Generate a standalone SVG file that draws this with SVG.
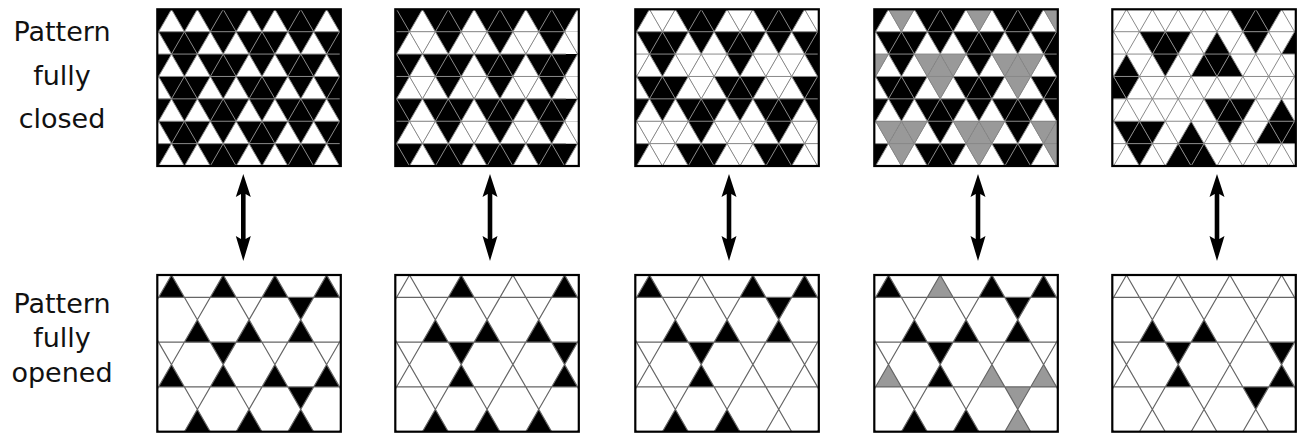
<svg xmlns="http://www.w3.org/2000/svg" xmlns:xlink="http://www.w3.org/1999/xlink" width="1303" height="444" viewBox="0 0 1303 444">
<style>
.w{fill:#fff}.k{fill:#000}.g{fill:#999}
.tl{fill:none;stroke:#8a8a8a;stroke-width:1}
.kl{fill:none;stroke:#666;stroke-width:1.2}
.fr{fill:none;stroke:#000;stroke-width:2.2}
.lab{font-family:"DejaVu Sans",sans-serif;font-size:27px;fill:#111;text-anchor:middle}
.arr{fill:#000}
</style>
<defs>
<polygon id="u" points="0,0 12.93,22.39 -12.93,22.39"/>
<polygon id="d" points="-12.93,0 12.93,0 0,22.39"/>
<clipPath id="cp"><rect x="0" y="0" width="183.5" height="156.7"/></clipPath>
<path id="tl" class="tl" d="M0 22.39H183.5M0 44.77H183.5M0 67.16H183.5M0 89.55H183.5M0 111.94H183.5M0 134.32H183.5
M-115.05 0l90.47 156.7M-89.2 0l90.47 156.7M-63.35 0l90.47 156.7M-37.5 0l90.47 156.7M-11.65 0l90.47 156.7M14.2 0l90.47 156.7M40.05 0l90.47 156.7M65.9 0l90.47 156.7M91.75 0l90.47 156.7M117.6 0l90.47 156.7M143.45 0l90.47 156.7M169.3 0l90.47 156.7M195.15 0l90.47 156.7
M-11.65 0l-90.47 156.7M14.2 0l-90.47 156.7M40.05 0l-90.47 156.7M65.9 0l-90.47 156.7M91.75 0l-90.47 156.7M117.6 0l-90.47 156.7M143.45 0l-90.47 156.7M169.3 0l-90.47 156.7M195.15 0l-90.47 156.7M221 0l-90.47 156.7M246.85 0l-90.47 156.7M272.7 0l-90.47 156.7M298.55 0l-90.47 156.7"/>
<path id="kl" class="kl" d="M0 22.39H183.5M0 67.16H183.5M0 111.94H183.5
M-89.2 0l90.47 156.7M-37.5 0l90.47 156.7M14.2 0l90.47 156.7M65.9 0l90.47 156.7M117.6 0l90.47 156.7M169.3 0l90.47 156.7
M14.2 0l-90.47 156.7M65.9 0l-90.47 156.7M117.6 0l-90.47 156.7M169.3 0l-90.47 156.7M221 0l-90.47 156.7M272.7 0l-90.47 156.7"/>
<path id="arrow" d="M0 174L7.5 197L2.3 194V239L7.5 236L0 261L-7.5 236L-2.3 239V194L-7.5 197Z"/>
<g id="t1w">
<use href="#u" x="14.2" y="0"/><use href="#u" x="40.05" y="0"/><use href="#u" x="91.75" y="0"/><use href="#u" x="117.6" y="0"/><use href="#u" x="169.3" y="0"/>
<use href="#u" x="1.275" y="22.39"/><use href="#u" x="52.975" y="22.39"/><use href="#u" x="78.825" y="22.39"/><use href="#u" x="130.525" y="22.39"/><use href="#u" x="156.375" y="22.39"/>
<use href="#u" x="14.2" y="44.77"/><use href="#u" x="40.05" y="44.77"/><use href="#u" x="91.75" y="44.77"/><use href="#u" x="117.6" y="44.77"/><use href="#u" x="169.3" y="44.77"/>
<use href="#u" x="1.275" y="67.16"/><use href="#u" x="52.975" y="67.16"/><use href="#u" x="78.825" y="67.16"/><use href="#u" x="130.525" y="67.16"/><use href="#u" x="156.375" y="67.16"/>
<use href="#u" x="14.2" y="89.55"/><use href="#u" x="40.05" y="89.55"/><use href="#u" x="91.75" y="89.55"/><use href="#u" x="117.6" y="89.55"/><use href="#u" x="169.3" y="89.55"/>
<use href="#u" x="1.275" y="111.94"/><use href="#u" x="52.975" y="111.94"/><use href="#u" x="78.825" y="111.94"/><use href="#u" x="130.525" y="111.94"/><use href="#u" x="156.375" y="111.94"/>
<use href="#u" x="14.2" y="134.32"/><use href="#u" x="40.05" y="134.32"/><use href="#u" x="91.75" y="134.32"/><use href="#u" x="117.6" y="134.32"/><use href="#u" x="169.3" y="134.32"/>
</g>
<g id="xset">
<use href="#d" x="27.125" y="0"/><use href="#d" x="104.675" y="0"/><use href="#d" x="182.225" y="0"/>
<use href="#d" x="1.275" y="44.77"/><use href="#d" x="52.975" y="44.77"/><use href="#u" x="65.9" y="44.77"/><use href="#d" x="78.825" y="44.77"/><use href="#d" x="130.525" y="44.77"/><use href="#u" x="143.45" y="44.77"/><use href="#d" x="156.375" y="44.77"/>
<use href="#d" x="65.9" y="67.16"/><use href="#d" x="143.45" y="67.16"/>
<use href="#d" x="14.2" y="111.94"/><use href="#u" x="27.125" y="111.94"/><use href="#d" x="40.05" y="111.94"/><use href="#d" x="91.75" y="111.94"/><use href="#u" x="104.675" y="111.94"/><use href="#d" x="117.6" y="111.94"/><use href="#d" x="169.3" y="111.94"/><use href="#u" x="182.225" y="111.94"/>
<use href="#d" x="27.125" y="134.32"/><use href="#d" x="104.675" y="134.32"/><use href="#d" x="182.225" y="134.32"/>
</g>
</defs>
<rect width="1303" height="444" fill="#fff"/>

<g id="labels">
<text class="lab" x="62" y="41">Pattern</text>
<text class="lab" x="62" y="85">fully</text>
<text class="lab" x="62" y="128">closed</text>
<text class="lab" x="62" y="313">Pattern</text>
<text class="lab" x="62" y="347">fully</text>
<text class="lab" x="62" y="382">opened</text>
</g>

<g id="closed-1" transform="translate(157.3,9.3)">
<g clip-path="url(#cp)">
<rect class="k" width="183.5" height="156.7"/>
<use href="#t1w" class="w"/>
<use href="#tl"/>
</g>
<rect class="fr" width="183.5" height="156.7"/>
</g>

<g id="closed-2" transform="translate(395.3,9.3)">
<g clip-path="url(#cp)">
<rect class="k" width="183.5" height="156.7"/>
<g class="w">
<use href="#u" x="27.125" y="0"/><use href="#u" x="78.825" y="0"/><use href="#u" x="130.525" y="0"/><use href="#u" x="182.225" y="0"/>
<use href="#u" x="14.2" y="22.39"/><use href="#u" x="40.05" y="22.39"/><use href="#u" x="65.9" y="22.39"/><use href="#u" x="91.75" y="22.39"/><use href="#u" x="117.6" y="22.39"/><use href="#u" x="143.45" y="22.39"/><use href="#u" x="169.3" y="22.39"/>
<use href="#d" x="27.125" y="22.39"/><use href="#d" x="78.825" y="22.39"/><use href="#d" x="130.525" y="22.39"/><use href="#d" x="182.225" y="22.39"/>
<use href="#u" x="27.125" y="44.77"/><use href="#u" x="78.825" y="44.77"/><use href="#u" x="130.525" y="44.77"/><use href="#u" x="182.225" y="44.77"/>
<use href="#u" x="14.2" y="67.16"/><use href="#u" x="40.05" y="67.16"/><use href="#u" x="65.9" y="67.16"/><use href="#u" x="91.75" y="67.16"/><use href="#u" x="117.6" y="67.16"/><use href="#u" x="143.45" y="67.16"/><use href="#u" x="169.3" y="67.16"/>
<use href="#d" x="27.125" y="67.16"/><use href="#d" x="78.825" y="67.16"/><use href="#d" x="130.525" y="67.16"/><use href="#d" x="182.225" y="67.16"/>
<use href="#u" x="27.125" y="89.55"/><use href="#u" x="78.825" y="89.55"/><use href="#u" x="130.525" y="89.55"/><use href="#u" x="182.225" y="89.55"/>
<use href="#u" x="14.2" y="111.94"/><use href="#u" x="40.05" y="111.94"/><use href="#u" x="65.9" y="111.94"/><use href="#u" x="91.75" y="111.94"/><use href="#u" x="117.6" y="111.94"/><use href="#u" x="143.45" y="111.94"/><use href="#u" x="169.3" y="111.94"/>
<use href="#d" x="27.125" y="111.94"/><use href="#d" x="78.825" y="111.94"/><use href="#d" x="130.525" y="111.94"/><use href="#d" x="182.225" y="111.94"/>
<use href="#u" x="27.125" y="134.32"/><use href="#u" x="78.825" y="134.32"/><use href="#u" x="130.525" y="134.32"/><use href="#u" x="182.225" y="134.32"/>
</g>
<use href="#tl" x="-12.925"/>
</g>
<rect class="fr" width="183.5" height="156.7"/>
</g>

<g id="closed-3" transform="translate(635.3,9.3)">
<g clip-path="url(#cp)">
<rect class="k" width="183.5" height="156.7"/>
<use href="#t1w" class="w"/>
<use href="#xset" class="w"/>
<use href="#tl"/>
</g>
<rect class="fr" width="183.5" height="156.7"/>
</g>

<g id="closed-4" transform="translate(874.3,9.3)">
<g clip-path="url(#cp)">
<rect class="k" width="183.5" height="156.7"/>
<use href="#t1w" class="w"/>
<use href="#xset" class="g"/>
<use href="#tl"/>
</g>
<rect class="fr" width="183.5" height="156.7"/>
</g>

<g id="closed-5" transform="translate(1112.3,9.3)">
<g clip-path="url(#cp)">
<g class="k">
<use href="#d" x="130.525" y="0"/><use href="#u" x="143.45" y="0"/><use href="#d" x="156.375" y="0"/>
<use href="#d" x="40.05" y="22.39"/><use href="#u" x="52.975" y="22.39"/><use href="#d" x="65.9" y="22.39"/><use href="#u" x="104.675" y="22.39"/><use href="#d" x="143.45" y="22.39"/><use href="#u" x="182.225" y="22.39"/>
<use href="#u" x="14.2" y="44.77"/><use href="#d" x="52.975" y="44.77"/><use href="#u" x="91.75" y="44.77"/><use href="#d" x="104.675" y="44.77"/><use href="#u" x="117.6" y="44.77"/>
<use href="#u" x="1.275" y="67.16"/><use href="#d" x="14.2" y="67.16"/>
<use href="#d" x="104.675" y="89.55"/><use href="#u" x="117.6" y="89.55"/><use href="#d" x="130.525" y="89.55"/><use href="#u" x="169.3" y="89.55"/>
<use href="#d" x="14.2" y="111.94"/><use href="#u" x="27.125" y="111.94"/><use href="#d" x="40.05" y="111.94"/><use href="#u" x="78.825" y="111.94"/><use href="#d" x="117.6" y="111.94"/><use href="#u" x="156.375" y="111.94"/><use href="#d" x="169.3" y="111.94"/><use href="#u" x="182.225" y="111.94"/>
<use href="#d" x="27.125" y="134.32"/><use href="#u" x="65.9" y="134.32"/><use href="#d" x="78.825" y="134.32"/><use href="#u" x="91.75" y="134.32"/>
</g>
<use href="#tl"/>
</g>
<rect class="fr" width="183.5" height="156.7"/>
</g>

<g id="opened-1" transform="translate(157.3,275)">
<g clip-path="url(#cp)">
<g class="k">
<use href="#u" x="14.2" y="0"/><use href="#u" x="65.9" y="0"/><use href="#u" x="117.6" y="0"/><use href="#u" x="169.3" y="0"/>
<use href="#d" x="143.45" y="22.39"/>
<use href="#u" x="40.05" y="44.77"/><use href="#u" x="91.75" y="44.77"/><use href="#u" x="143.45" y="44.77"/>
<use href="#d" x="65.9" y="67.16"/>
<use href="#u" x="14.2" y="89.55"/><use href="#u" x="65.9" y="89.55"/><use href="#u" x="117.6" y="89.55"/><use href="#u" x="169.3" y="89.55"/>
<use href="#d" x="143.45" y="111.94"/>
<use href="#u" x="40.05" y="134.32"/><use href="#u" x="91.75" y="134.32"/><use href="#u" x="143.45" y="134.32"/>
</g>
<use href="#kl"/>
</g>
<rect class="fr" width="183.5" height="156.7"/>
</g>

<g id="opened-2" transform="translate(395.3,275)">
<g clip-path="url(#cp)">
<g class="k">
<use href="#u" x="65.9" y="0"/><use href="#u" x="169.3" y="0"/>
<use href="#u" x="40.05" y="44.77"/><use href="#u" x="91.75" y="44.77"/><use href="#u" x="143.45" y="44.77"/>
<use href="#d" x="65.9" y="67.16"/><use href="#d" x="169.3" y="67.16"/>
<use href="#u" x="65.9" y="89.55"/><use href="#u" x="169.3" y="89.55"/>
<use href="#u" x="40.05" y="134.32"/><use href="#u" x="91.75" y="134.32"/><use href="#u" x="143.45" y="134.32"/>
</g>
<use href="#kl"/>
</g>
<rect class="fr" width="183.5" height="156.7"/>
</g>

<g id="opened-3" transform="translate(635.3,275)">
<g clip-path="url(#cp)">
<g class="k">
<use href="#u" x="14.2" y="0"/><use href="#u" x="117.6" y="0"/><use href="#u" x="169.3" y="0"/>
<use href="#d" x="143.45" y="22.39"/>
<use href="#u" x="40.05" y="44.77"/><use href="#u" x="91.75" y="44.77"/><use href="#u" x="143.45" y="44.77"/>
<use href="#d" x="65.9" y="67.16"/>
<use href="#u" x="65.9" y="89.55"/>
<use href="#u" x="40.05" y="134.32"/><use href="#u" x="91.75" y="134.32"/>
</g>
<use href="#kl"/>
</g>
<rect class="fr" width="183.5" height="156.7"/>
</g>

<g id="opened-4" transform="translate(874.3,275)">
<g clip-path="url(#cp)">
<g class="k">
<use href="#u" x="14.2" y="0"/><use href="#u" x="117.6" y="0"/><use href="#u" x="169.3" y="0"/>
<use href="#d" x="143.45" y="22.39"/>
<use href="#u" x="40.05" y="44.77"/><use href="#u" x="91.75" y="44.77"/><use href="#u" x="143.45" y="44.77"/>
<use href="#d" x="65.9" y="67.16"/>
<use href="#u" x="65.9" y="89.55"/>
<use href="#u" x="40.05" y="134.32"/><use href="#u" x="91.75" y="134.32"/>
</g>
<g class="g">
<use href="#u" x="65.9" y="0"/>
<use href="#u" x="14.2" y="89.55"/><use href="#u" x="117.6" y="89.55"/><use href="#u" x="169.3" y="89.55"/>
<use href="#d" x="143.45" y="111.94"/>
<use href="#u" x="143.45" y="134.32"/>
</g>
<use href="#kl"/>
</g>
<rect class="fr" width="183.5" height="156.7"/>
</g>

<g id="opened-5" transform="translate(1112.3,275)">
<g clip-path="url(#cp)">
<g class="k">
<use href="#u" x="40.05" y="44.77"/><use href="#u" x="91.75" y="44.77"/>
<use href="#d" x="65.9" y="67.16"/><use href="#d" x="169.3" y="67.16"/>
<use href="#u" x="65.9" y="89.55"/><use href="#u" x="169.3" y="89.55"/>
<use href="#d" x="143.45" y="111.94"/>
</g>
<use href="#kl"/>
</g>
<rect class="fr" width="183.5" height="156.7"/>
</g>

<g id="connectors" class="arr">
<use href="#arrow" x="243.3"/>
<use href="#arrow" x="490"/>
<use href="#arrow" x="729"/>
<use href="#arrow" x="978"/>
<use href="#arrow" x="1217"/>
</g>
</svg>
